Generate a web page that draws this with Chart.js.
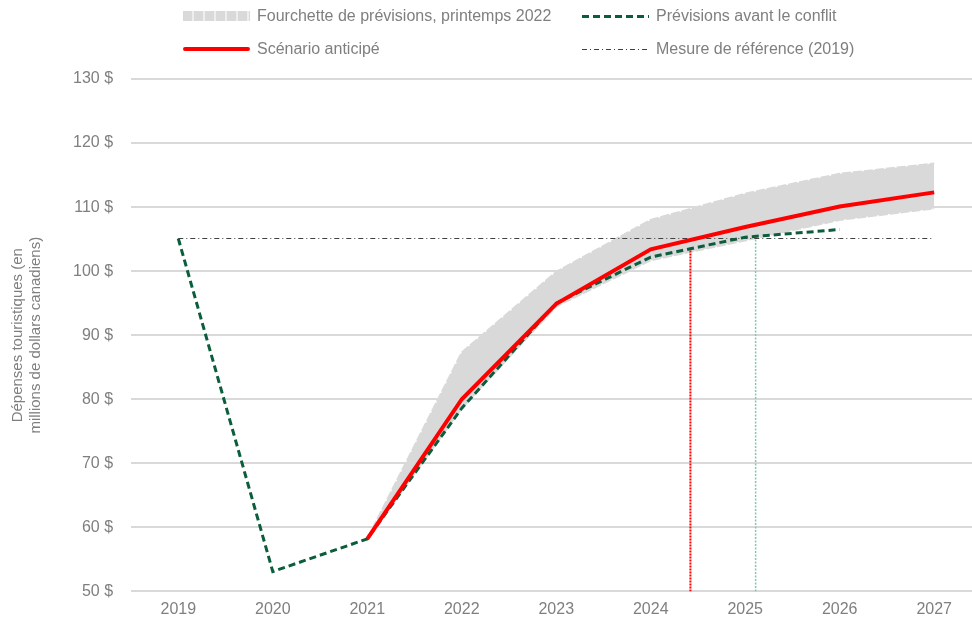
<!DOCTYPE html>
<html>
<head>
<meta charset="utf-8">
<script src="https://cdn.jsdelivr.net/npm/chart.js@4"></script>
<style>
  body { margin: 0; background: #fff; font-family: "Liberation Sans", Arial, sans-serif; }
  #wrap { position: relative; width: 972px; height: 619px; }
  #legend { position: absolute; left: 0; top: 0; width: 972px; height: 70px; color: #7f7f7f; font-size: 16px; }
  .item { position: absolute; display: flex; align-items: center; height: 20px; }
  .item span.txt { margin-left: 7px; white-space: nowrap; }
  .sw { width: 67px; height: 10px; }
</style>
</head>
<body>
<div id="wrap">
  <canvas id="chart" width="972" height="619"></canvas>
  <div id="legend">
    <div class="item" style="left:183px; top:6px;">
      <div class="sw" style="height:10px; background: repeating-linear-gradient(90deg, #d9d9d9 0 9px, #eeeeee 9px 11px);"></div>
      <span class="txt">Fourchette de prévisions, printemps 2022</span>
    </div>
    <div class="item" style="left:582px; top:6px;">
      <div class="sw" style="height:3px; background: repeating-linear-gradient(90deg, #0b5e3c 0 7px, transparent 7px 11px);"></div>
      <span class="txt">Prévisions avant le conflit</span>
    </div>
    <div class="item" style="left:183px; top:39px;">
      <div class="sw" style="height:4px; background:#ff0000; border-radius:2px;"></div>
      <span class="txt">Scénario anticipé</span>
    </div>
    <div class="item" style="left:582px; top:39px;">
      <div class="sw" style="height:1px; background: repeating-linear-gradient(90deg, #404040 0 5px, transparent 5px 8px, #404040 8px 9px, transparent 9px 12px);"></div>
      <span class="txt">Mesure de référence (2019)</span>
    </div>
  </div>
</div>
<script>
const chart = document.getElementById("chart");

// Data
const years = [2019, 2020, 2021, 2022, 2023, 2024, 2025, 2026, 2027];
const avantConflit = [105.1, 53.1, 58.2, 78.6, 95.0, 102.2, 105.3, 106.5, null];
const scenario = [null, null, 58.2, 80.0, 94.9, 103.4, 106.9, 110.1, 112.3];
const fourchetteHaut = [null, null, 58.2, 87.3, 99.9, 108.0, 112.1, 115.2, 116.8];
const fourchetteBas = [null, null, 58.2, 78.6, 94.5, 101.7, 104.8, 108.0, 109.8];
const reference2019 = [105.1, 105.1, 105.1, 105.1, 105.1, 105.1, 105.1, 105.1, 105.1];
const yTicks = [50, 60, 70, 80, 90, 100, 110, 120, 130];

// where the lines cross the 2019 level
const croisementScenario = { x: 2024.42, y: 103.8 };
const croisementAvant = { x: 2025.11, y: 105.3 };

const toPoints = (arr) => years.map((yr, i) => ({ x: yr, y: arr[i] }));
const vertical = (p) => [{ x: p.x, y: 50 }, { x: p.x, y: p.y }];

const config = {
  type: "line",
  data: {
    datasets: [
      {
        label: "bas",
        data: toPoints(fourchetteBas),
        borderColor: "#d9d9d9",
        borderWidth: 2,
        borderDash: [9, 2],
        pointRadius: 0,
        fill: false,
        order: 10,
      },
      {
        label: "Fourchette de prévisions, printemps 2022",
        data: toPoints(fourchetteHaut),
        borderColor: "#d9d9d9",
        borderWidth: 2,
        borderDash: [9, 2],
        backgroundColor: "#d9d9d9",
        pointRadius: 0,
        fill: "-1",
        order: 9,
      },
      {
        label: "Mesure de référence (2019)",
        data: toPoints(reference2019),
        borderColor: "#404040",
        borderWidth: 1,
        borderDash: [5, 3, 1, 3],
        pointRadius: 0,
        fill: false,
        order: 5,
      },
      {
        label: "croisement scénario",
        data: vertical(croisementScenario),
        borderColor: "#ff0000",
        borderWidth: 2,
        borderDash: [2, 1],
        pointRadius: 0,
        fill: false,
        order: 4,
      },
      {
        label: "croisement avant",
        data: vertical(croisementAvant),
        borderColor: "#7fc9a9",
        borderWidth: 1.5,
        borderDash: [2, 1.5],
        pointRadius: 0,
        fill: false,
        order: 4,
      },
      {
        label: "Prévisions avant le conflit",
        data: toPoints(avantConflit),
        borderColor: "#0b5e3c",
        borderWidth: 3,
        borderDash: [7, 4],
        pointRadius: 0,
        fill: false,
        order: 2,
      },
      {
        label: "Scénario anticipé",
        data: toPoints(scenario),
        borderColor: "#ff0000",
        borderWidth: 4,
        pointRadius: 0,
        fill: false,
        order: 1,
      },
    ],
  },
  options: {
    responsive: false,
    animation: false,
    layout: { padding: { top: 79, right: 0, bottom: -9.5, left: 0 } },
    plugins: { legend: { display: false }, tooltip: { enabled: false } },
    scales: {
      x: {
        type: "linear",
        min: 2018.5,
        max: 2027.4,
        afterBuildTicks: (scale) => {
          scale.ticks = years.map((v) => ({ value: v }));
        },
        grid: { display: false, drawTicks: false },
        border: { display: false },
        ticks: {
          padding: 8.5,
          color: "#7f7f7f",
          font: { family: "Liberation Sans", size: 16 },
          callback: (v) => String(v),
          maxRotation: 0,
        },
      },
      y: {
        min: 50,
        max: 130,
        afterBuildTicks: (scale) => {
          scale.ticks = yTicks.map((v) => ({ value: v }));
        },
        grid: { color: "#d9d9d9", lineWidth: 2, drawTicks: false },
        border: { display: false },
        ticks: {
          padding: 18,
          color: "#7f7f7f",
          font: { family: "Liberation Sans", size: 16 },
          callback: (v) => v + " $",
        },
        title: {
          display: true,
          text: ["Dépenses touristiques (en", "millions de dollars canadiens)"],
          color: "#7f7f7f",
          font: { family: "Liberation Sans", size: 15, lineHeight: 1.2 },
          padding: { top: 9, bottom: 10 },
        },
      },
    },
  },
};

new Chart(chart, config);
</script>
</body>
</html>
